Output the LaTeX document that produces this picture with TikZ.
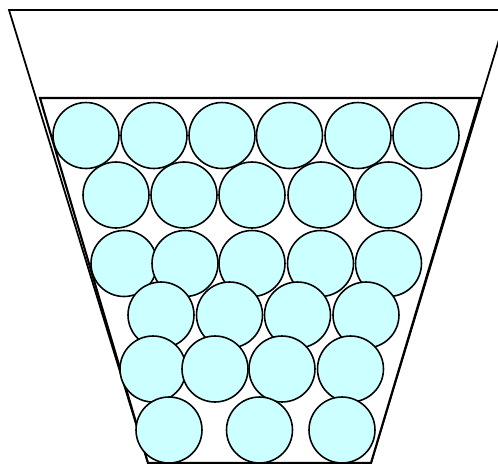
\documentclass[tikz,border=0pt]{standalone}
\usepackage{tikz}

\definecolor{ballcyan}{HTML}{CCFFFF}

\tikzset{
    ball/.style={circle, draw=black, line width=0.9pt, fill=ballcyan,
                 minimum size=1.32cm, inner sep=0pt},
    wall/.style={draw=black, line width=1pt, fill=white}
}

\begin{document}
\begin{tikzpicture}[x=0.02cm, y=-0.02cm]
    % Fix the frame of the picture
    \useasboundingbox (0,0) rectangle (498,464);
    \clip (0,0) rectangle (498,464);

    % Define the corners of the container
    \coordinate (TL) at (9,10);
    \coordinate (TR) at (508,10);
    \coordinate (BR) at (371,463);
    \coordinate (BL) at (148,463);
    \coordinate (FL) at (40,98);
    \coordinate (FR) at (480,98);

    % Draw the container and the filling level
    \draw[wall] (TL) -- (TR) -- (BR) -- (BL) -- cycle; % outer wall
    \draw[wall, line width=1.2pt] (FL) -- (FR) -- (BR) -- (BL) -- cycle; % fill level

    % Top row of balls
    \node[ball] (b11) at (86,135.5) {};
    \node[ball] (b12) at (154,135.5) {};
    \node[ball] (b13) at (222,135.5) {};
    \node[ball] (b14) at (289.5,135.5) {};
    \node[ball] (b15) at (358,135.5) {};
    \node[ball] (b16) at (426,135.5) {};

    % Second row
    \node[ball] (b21) at (116,195) {};
    \node[ball] (b22) at (184,195) {};
    \node[ball] (b23) at (252,195) {};
    \node[ball] (b24) at (321,195) {};
    \node[ball] (b25) at (388.5,195) {};

    % Third row
    \node[ball] (b31) at (124,263.5) {};
    \node[ball] (b32) at (185,263.5) {};
    \node[ball] (b33) at (252,263.5) {};
    \node[ball] (b34) at (320.5,263.5) {};
    \node[ball] (b35) at (388.5,263.5) {};

    % Fourth row
    \node[ball] (b41) at (161,315) {};
    \node[ball] (b42) at (229.5,315) {};
    \node[ball] (b43) at (297.5,315) {};
    \node[ball] (b44) at (366,315) {};

    % Fifth row
    \node[ball] (b51) at (153,369) {};
    \node[ball] (b52) at (215,369) {};
    \node[ball] (b53) at (282,369) {};
    \node[ball] (b54) at (350.5,369) {};

    % Bottom row
    \node[ball] (b61) at (169,430) {};
    \node[ball] (b62) at (259.5,430) {};
    \node[ball] (b63) at (342,430) {};
\end{tikzpicture}
\end{document}
